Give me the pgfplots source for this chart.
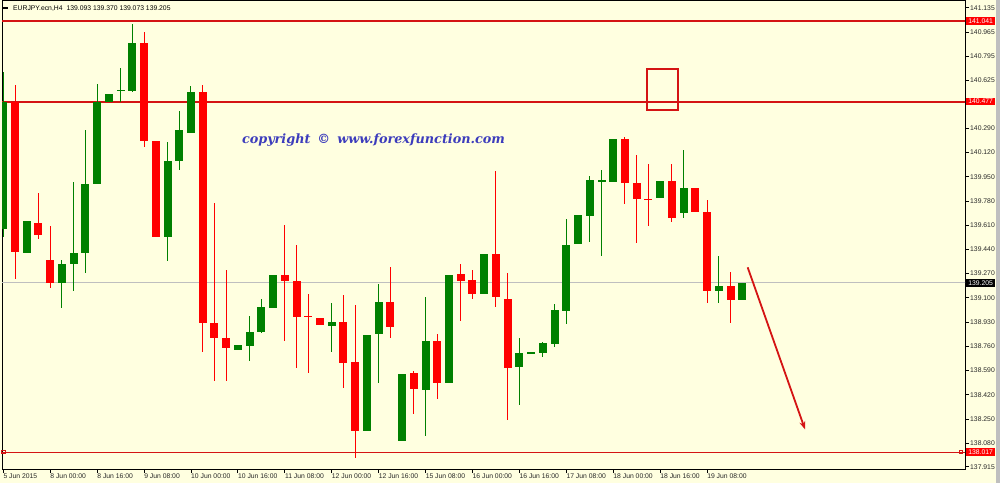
\documentclass[border=0pt]{standalone}
\usepackage{fontspec}
\setmainfont{Liberation Sans}
\newfontfamily\wmfont{DejaVu Serif}
\usepackage{pgfplots}
\usepackage{pgfplotstable}
\pgfplotsset{compat=1.18}
\usetikzlibrary{arrows.meta}
\definecolor{bg}{HTML}{FFFFE0}
\definecolor{cred}{HTML}{FF0000}
\definecolor{cgreen}{HTML}{008000}
\definecolor{lred}{HTML}{D41414}
\definecolor{wm}{HTML}{3C3CBC}

\pgfplotstableread{
k o h l c
1 140.476 140.594 139.230 139.424
3 139.623 139.834 139.513 139.541
4 139.366 139.604 139.171 139.206
12 140.888 140.965 140.156 140.203
13 140.201 140.201 139.529 139.529
17 140.547 140.594 138.722 138.926
18 138.921 139.768 138.519 138.820
19 138.816 139.295 138.519 138.746
24 139.260 139.611 138.797 139.220
25 139.218 139.471 138.610 138.968
26 138.972 139.127 138.575 138.970
27 138.963 138.963 138.914 138.914
29 138.933 139.120 138.465 138.645
30 138.652 139.050 137.974 138.168
33 139.071 139.319 138.820 138.897
35 138.570 138.589 138.285 138.458
37 138.797 138.846 138.388 138.505
39 139.267 139.337 138.940 139.220
40 139.225 139.295 139.094 139.127
42 139.408 139.990 139.038 139.108
43 139.092 139.272 138.243 138.610
53 140.215 140.231 139.756 139.904
54 139.904 140.102 139.487 139.792
55 139.794 140.039 139.606 139.792
57 139.920 140.039 139.634 139.658
59 139.869 139.869 139.700 139.700
60 139.705 139.787 139.066 139.150
62 139.183 139.279 138.921 139.085
}\redtab

\pgfplotstableread{
k o h l c
0 139.581 140.687 139.529 140.476
2 139.417 139.639 139.417 139.639
5 139.206 139.366 139.031 139.337
6 139.337 139.915 139.148 139.413
7 139.417 140.278 139.276 139.899
8 139.897 140.601 139.897 140.476
9 140.472 140.528 140.472 140.528
10 140.554 140.711 140.476 140.558
11 140.551 141.022 140.547 140.888
14 139.529 140.192 139.361 140.060
15 140.062 140.411 139.997 140.278
16 140.255 140.587 140.255 140.547
20 138.734 138.769 138.734 138.769
21 138.764 138.975 138.659 138.858
22 138.858 139.092 138.851 139.038
23 139.031 139.260 139.031 139.260
28 138.905 139.066 138.722 138.933
31 138.168 138.839 138.168 138.839
32 138.844 139.202 138.507 139.071
34 138.098 138.570 138.098 138.570
36 138.458 139.104 138.133 138.797
38 138.505 139.260 138.505 139.260
41 139.127 139.408 139.127 139.408
44 138.617 138.816 138.348 138.715
45 138.711 138.722 138.711 138.722
46 138.715 138.792 138.687 138.781
47 138.774 139.057 138.757 139.015
48 139.010 139.658 138.921 139.471
49 139.476 139.681 139.476 139.681
50 139.676 139.957 139.494 139.927
51 139.920 139.997 139.396 139.922
52 139.915 140.215 139.915 140.215
56 139.799 139.920 139.799 139.920
58 139.693 140.137 139.658 139.869
61 139.150 139.394 139.066 139.183
63 139.085 139.202 139.085 139.202
}\greentab

\pgfplotsset{
  candle/.style n args={2}{only marks, mark=*, mark size=0pt,
    mark options={draw opacity=0, fill opacity=0},
    error bars/.cd, y dir=both, y explicit, error mark=none,
    error bar style={line width=#2, color=#1, solid}},
}

\begin{document}
\begin{tikzpicture}
\fill[bg] (-2pt,-14pt) rectangle (998pt,469pt);
\fill[black!25] (994pt,-14pt) rectangle (998pt,469pt);
\begin{axis}[
  at={(0pt,0pt)}, anchor=south west,
  scale only axis, width=963pt, height=468pt,
  xmin=-0.111, xmax=81.99, ymin=137.8988, ymax=141.1829,
  clip mode=individual,
  axis line style={black, line width=1pt},
  tick style={black, line width=0.8pt},
  tick align=outside, major tick length=4pt,
  xtick pos=bottom, ytick pos=right, yticklabel pos=right,
  xtick={0,4,...,60},
  xticklabels={5 Jun 2015,8 Jun 00:00,8 Jun 16:00,9 Jun 08:00,10 Jun 00:00,10 Jun 16:00,11 Jun 08:00,12 Jun 00:00,12 Jun 16:00,15 Jun 08:00,16 Jun 00:00,16 Jun 16:00,17 Jun 08:00,18 Jun 00:00,18 Jun 16:00,19 Jun 08:00},
  ytick={137.915,138.080,138.250,138.420,138.590,138.760,138.930,139.100,139.270,139.440,139.610,139.780,139.950,140.120,140.290,140.625,140.795,140.965,141.135},
  yticklabels={137.915,138.080,138.250,138.420,138.590,138.760,138.930,139.100,139.270,139.440,139.610,139.780,139.950,140.120,140.290,140.625,140.795,140.965,141.135},
  ticklabel style={font=\fontsize{6.8}{7}\selectfont, text=black!85},
  xticklabel style={anchor=north west, inner sep=1pt, xshift=-1pt},
  yticklabel style={anchor=west, inner sep=1pt},
  scaled y ticks=false,
]
% horizontal levels
\addplot[black!25, line width=0.8pt] coordinates {(-1,139.205) (83,139.205)};
\addplot[lred, line width=2pt] coordinates {(-1,141.041) (83,141.041)};
\addplot[lred, line width=2pt] coordinates {(-1,140.477) (83,140.477)};
\addplot[lred, line width=1pt] coordinates {(-1,138.017) (83,138.017)};
\addplot[lred, only marks, mark=square, mark size=1.6pt, line width=0.8pt] coordinates {(0.0,138.017) (81.65,138.017)};
% wicks
\addplot[candle={cred}{1pt}]
  table[x=k, y expr={(\thisrow{h}+\thisrow{l})/2}, y error plus expr={(\thisrow{h}-\thisrow{l})/2}, y error minus expr={(\thisrow{h}-\thisrow{l})/2}] {\redtab};
\addplot[candle={cgreen}{1pt}]
  table[x=k, y expr={(\thisrow{h}+\thisrow{l})/2}, y error plus expr={(\thisrow{h}-\thisrow{l})/2}, y error minus expr={(\thisrow{h}-\thisrow{l})/2}] {\greentab};
% bodies
\addplot[candle={cred}{8pt}]
  table[x=k, y expr={(\thisrow{o}+\thisrow{c})/2}, y error plus expr={max(abs(\thisrow{o}-\thisrow{c})/2,0.0045)}, y error minus expr={max(abs(\thisrow{o}-\thisrow{c})/2,0.0045)}] {\redtab};
\addplot[candle={cgreen}{8pt}]
  table[x=k, y expr={(\thisrow{o}+\thisrow{c})/2}, y error plus expr={max(abs(\thisrow{o}-\thisrow{c})/2,0.0045)}, y error minus expr={max(abs(\thisrow{o}-\thisrow{c})/2,0.0045)}] {\greentab};
% rectangle and arrow
\addplot[lred, line width=2pt, line cap=rect, line join=miter] coordinates {(54.85,140.706) (57.54,140.706) (57.54,140.418) (54.85,140.418) (54.85,140.706)};
\addplot[lred, line width=1.8pt, -{Stealth[length=8pt,width=6pt]}] coordinates {(63.46,139.314) (68.35,138.177)};
% labels
\node[fill=cred, text=white, inner sep=0pt, minimum width=29pt, minimum height=7.5pt, anchor=west, font=\fontsize{6.8}{7}\selectfont] at (axis cs:81.99,141.041) [xshift=1pt] {141.041};
\node[fill=cred, text=white, inner sep=0pt, minimum width=29pt, minimum height=7.5pt, anchor=west, font=\fontsize{6.8}{7}\selectfont] at (axis cs:81.99,140.477) [xshift=1pt] {140.477};
\node[fill=cred, text=white, inner sep=0pt, minimum width=29pt, minimum height=7.5pt, anchor=west, font=\fontsize{6.8}{7}\selectfont] at (axis cs:81.99,138.017) [xshift=1pt] {138.017};
\node[fill=black, text=white, inner sep=0pt, minimum width=29pt, minimum height=7.5pt, anchor=west, font=\fontsize{6.8}{7}\selectfont] at (axis cs:81.99,139.205) [xshift=1pt] {139.205};
\node[anchor=west, inner sep=0pt, font=\fontsize{6.8}{7}\selectfont] at (rel axis cs:0,1) [xshift=1pt, yshift=-7.5pt] {\rule[1.8pt]{5pt}{1.8pt}\hspace{5pt}EURJPY.ecn,H4\hspace{4pt}139.093 139.370 139.073 139.205};
\node[text=wm, font=\wmfont\bfseries\itshape\fontsize{12.8}{14}\selectfont, inner sep=0pt] at (axis cs:31.56,140.208) {copyright\hspace{7pt}\textcopyright\hspace{7pt}www.forexfunction.com};
\end{axis}
\pgfresetboundingbox
\path[use as bounding box] (-2pt,-14pt) rectangle (998pt,469pt);
\end{tikzpicture}
\end{document}
